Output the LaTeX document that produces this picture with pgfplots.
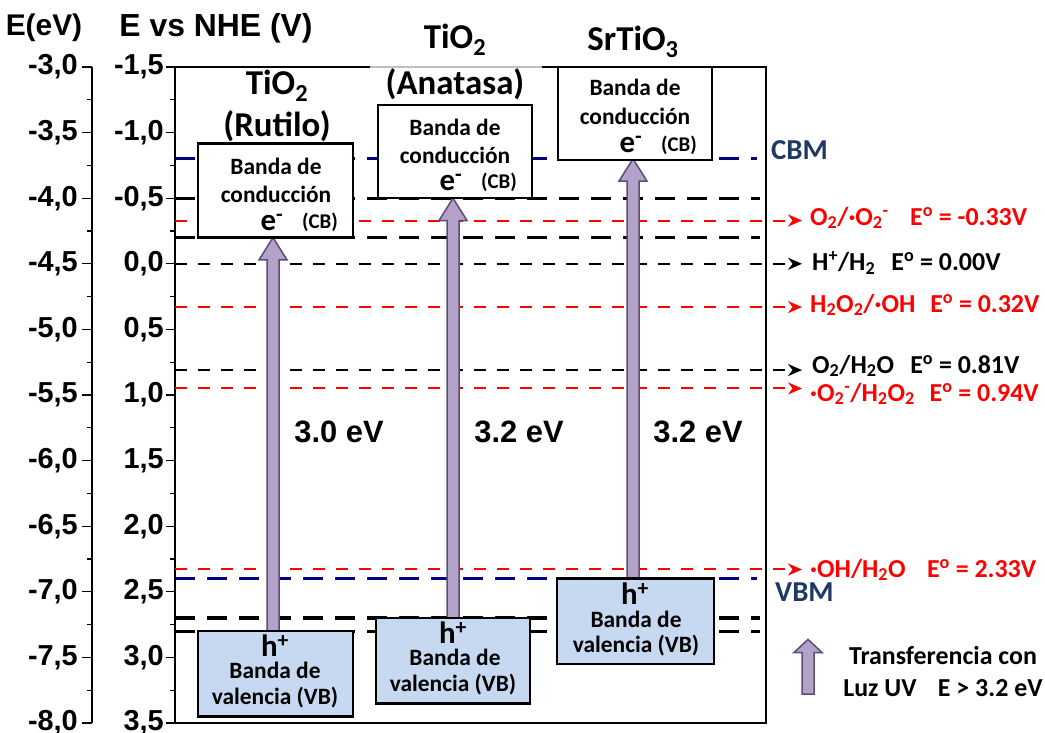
\documentclass[border=0pt]{standalone}
\usepackage{fontspec}
\setmainfont{Carlito}
\newfontfamily\arial{Liberation Sans}
\usepackage{pgfplots}
\pgfplotsset{compat=1.18}
\usetikzlibrary{arrows.meta}
\definecolor{arrfill}{HTML}{B3A2C7}
\definecolor{arrdraw}{HTML}{5F497A}
\definecolor{vbfill}{HTML}{C6D9F1}
\definecolor{navyl}{HTML}{000080}
\definecolor{navyt}{HTML}{1F3864}
\newcommand\AB[1]{\arial\bfseries\fontsize{#1}{#1}\selectfont}
\newcommand\CB[1]{\bfseries\fontsize{#1}{#1}\selectfont}
\begin{document}
\begin{tikzpicture}[x=1bp,y=1bp]
\useasboundingbox (0,0) rectangle (1045,733);
% E(eV) axis
\begin{axis}[at={(92bp,10bp)}, anchor=south west, scale only axis,
  width=10bp, height=656bp, xmin=0, xmax=1, ymin=-8, ymax=-3,
  axis y line*=left, axis x line=none,
  ytick={-8,-7.5,-7,-6.5,-6,-5.5,-5,-4.5,-4,-3.5,-3},
  yticklabels={{-8,0},{-7,5},{-7,0},{-6,5},{-6,0},{-5,5},{-5,0},{-4,5},{-4,0},{-3,5},{-3,0}},
  minor y tick num=1, tick align=outside, major tick length=10bp, minor tick length=5bp,
  axis line style={line width=1.5bp}, tick style={line width=1.2bp, black},
  yticklabel style={font=\AB{29}, inner sep=0pt, xshift=-4bp}]
\end{axis}
% main axis
\begin{axis}[at={(175bp,10bp)}, anchor=south west, scale only axis,
  width=591bp, height=656bp, xmin=175, xmax=766, ymin=-1.5, ymax=3.5,
  y dir=reverse, clip=false, xtick=\empty,
  ytick={-1.5,-1,-0.5,0,0.5,1,1.5,2,2.5,3,3.5},
  yticklabels={{-1,5},{-1,0},{-0,5},{0,0},{0,5},{1,0},{1,5},{2,0},{2,5},{3,0},{3,5}},
  minor y tick num=1, ytick pos=left, tick align=outside,
  major tick length=9bp, minor tick length=5bp,
  axis line style={line width=1.8bp}, tick style={line width=1.2bp, black},
  yticklabel style={font=\AB{29}, inner sep=0pt, xshift=-2bp}]
% thin dashed reference lines with arrows
\addplot[red, line width=2bp, dash pattern=on 12bp off 11bp, -{Stealth[length=14bp,width=12bp]}] coordinates {(175,-0.33) (802,-0.33)};
\addplot[black, line width=2bp, dash pattern=on 12bp off 11bp, -{Stealth[length=14bp,width=12bp]}] coordinates {(175,0) (802,0)};
\addplot[red, line width=2bp, dash pattern=on 12bp off 11bp, -{Stealth[length=14bp,width=12bp]}] coordinates {(175,0.33) (802,0.33)};
\addplot[black, line width=2bp, dash pattern=on 12bp off 11bp, -{Stealth[length=14bp,width=12bp]}] coordinates {(175,0.81) (802,0.81)};
\addplot[red, line width=2bp, dash pattern=on 12bp off 11bp, -{Stealth[length=14bp,width=12bp]}] coordinates {(175,0.95) (802,0.95)};
\addplot[red, line width=2bp, dash pattern=on 12bp off 11bp, -{Stealth[length=14bp,width=12bp]}] coordinates {(175,2.33) (802,2.33)};
% thick band edges
\addplot[navyl, line width=3.3bp, dash pattern=on 20bp off 12bp] coordinates {(175,-0.8) (757,-0.8)};
\addplot[navyl, line width=3.3bp, dash pattern=on 20bp off 12bp] coordinates {(175,2.4) (757,2.4)};
\addplot[black, line width=3.3bp, dash pattern=on 20bp off 12bp] coordinates {(175,-0.5) (760,-0.5)};
\addplot[black, line width=3.3bp, dash pattern=on 20bp off 12bp] coordinates {(175,-0.2) (760,-0.2)};
\addplot[black, line width=3.3bp, dash pattern=on 20bp off 12bp] coordinates {(175,2.7) (760,2.7)};
\addplot[black, line width=3.3bp, dash pattern=on 20bp off 12bp] coordinates {(175,2.8) (760,2.8)};
% top line lighter segment
\addplot[black!25, line width=1.8bp] coordinates {(370,-1.5) (542,-1.5)};
% arrows (band gaps)
\addplot[fill=arrfill, draw=arrdraw, line width=1.5bp] coordinates {(267,2.8) (279,2.8) (279,-0.03) (287,-0.03) (273,-0.2) (259,-0.03) (267,-0.03)} --cycle;
\addplot[fill=arrfill, draw=arrdraw, line width=1.5bp] coordinates {(447,2.7) (459,2.7) (459,-0.33) (467,-0.33) (453,-0.5) (439,-0.33) (447,-0.33)} --cycle;
\addplot[fill=arrfill, draw=arrdraw, line width=1.5bp] coordinates {(627,2.4) (639,2.4) (639,-0.63) (647,-0.63) (633,-0.8) (619,-0.63) (627,-0.63)} --cycle;
\addplot[fill=arrfill, draw=arrdraw, line width=1.5bp] coordinates {(802,3.28) (814,3.28) (814,2.963) (822,2.963) (808,2.863) (794,2.963) (802,2.963)} --cycle;
% conduction band boxes
\addplot[fill=white, draw=black, line width=2.5bp] coordinates {(198,-0.915) (353,-0.915) (353,-0.2) (198,-0.2)} --cycle;
\addplot[fill=white, draw=black, line width=2.5bp] coordinates {(378,-1.21) (532,-1.21) (532,-0.5) (378,-0.5)} --cycle;
\addplot[fill=white, draw=black, line width=2.5bp] coordinates {(558,-1.5) (712,-1.5) (712,-0.79) (558,-0.79)} --cycle;
% valence band boxes
\addplot[fill=vbfill, draw=black, line width=2.5bp] coordinates {(198,2.8) (353,2.8) (353,3.45) (198,3.45)} --cycle;
\addplot[fill=vbfill, draw=black, line width=2.5bp] coordinates {(376,2.7) (530,2.7) (530,3.35) (376,3.35)} --cycle;
\addplot[fill=vbfill, draw=black, line width=2.5bp] coordinates {(557,2.4) (714,2.4) (714,3.05) (557,3.05)} --cycle;
\end{axis}
% axis titles
\node[font=\AB{30}] at (44,705) {E(eV)};
\node[font=\AB{32}] at (216,705) {E vs NHE (V)};
% material titles
\node[font=\CB{35}] at (277,647) {TiO\textsubscript{2}};
\node[font=\CB{35}] at (277,607) {(Rutilo)};
\node[font=\CB{35}] at (455,693) {TiO\textsubscript{2}};
\node[font=\CB{35}] at (455,649) {(Anatasa)};
\node[font=\CB{35}] at (633,691) {SrTiO\textsubscript{3}};
% CB box texts
\node[font=\CB{23.5}] at (276,567) {Banda de};
\node[font=\CB{23.5}] at (276,539) {conducción};
\node[font=\CB{31}] at (272,511) {e\textsuperscript{-}};
\node[font=\CB{21}] at (320,511) {(CB)};
\node[font=\CB{23.5}] at (455,606) {Banda de};
\node[font=\CB{23.5}] at (455,578) {conducción};
\node[font=\CB{31}] at (451,551) {e\textsuperscript{-}};
\node[font=\CB{21}] at (499,551) {(CB)};
\node[font=\CB{23.5}] at (635,646) {Banda de};
\node[font=\CB{23.5}] at (635,617) {conducción};
\node[font=\CB{31}] at (631,589) {e\textsuperscript{-}};
\node[font=\CB{21}] at (679,588) {(CB)};
% VB box texts
\node[font=\CB{31}] at (275,87) {h\textsuperscript{+}};
\node[font=\CB{23.5}] at (275,63) {Banda de};
\node[font=\CB{23.5}] at (275,35) {valencia (VB)};
\node[font=\CB{31}] at (453,100) {h\textsuperscript{+}};
\node[font=\CB{23.5}] at (455,76) {Banda de};
\node[font=\CB{23.5}] at (453,48) {valencia (VB)};
\node[font=\CB{31}] at (635,139) {h\textsuperscript{+}};
\node[font=\CB{23.5}] at (636,114) {Banda de};
\node[font=\CB{23.5}] at (636,87) {valencia (VB)};
% gap labels
\node[font=\AB{31}] at (339,301) {3.0 eV};
\node[font=\AB{31}] at (519,301) {3.2 eV};
\node[font=\AB{31}] at (698,301) {3.2 eV};
% right labels
\node[font=\CB{29}, text=navyt, anchor=west, inner sep=0pt] at (771,583) {CBM};
\node[font=\CB{29}, text=navyt, anchor=west, inner sep=0pt] at (775,141) {VBM};
\node[font=\CB{26}, text=red, anchor=west, inner sep=0pt] at (810,515) {O\textsubscript{2}/·O\textsubscript{2}\textsuperscript{-}\hspace{0.6em} E\textsuperscript{o} = -0.33V};
\node[font=\CB{26}, text=black, anchor=west, inner sep=0pt] at (812,470) {H\textsuperscript{+}/H\textsubscript{2}\hspace{0.4em} E\textsuperscript{o} = 0.00V};
\node[font=\CB{26}, text=red, anchor=west, inner sep=0pt] at (810,428) {H\textsubscript{2}O\textsubscript{2}/·OH\hspace{0.35em} E\textsuperscript{o} = 0.32V};
\node[font=\CB{26}, text=black, anchor=west, inner sep=0pt] at (812,367) {O\textsubscript{2}/H\textsubscript{2}O\hspace{0.4em} E\textsuperscript{o} = 0.81V};
\node[font=\CB{26}, text=red, anchor=west, inner sep=0pt] at (810,339) {·O\textsubscript{2}\textsuperscript{-}/H\textsubscript{2}O\textsubscript{2}\hspace{0.35em} E\textsuperscript{o} = 0.94V};
\node[font=\CB{26}, text=red, anchor=west, inner sep=0pt] at (810,163) {·OH/H\textsubscript{2}O\hspace{0.6em} E\textsuperscript{o} = 2.33V};
% legend text
\node[font=\CB{26}] at (943,77) {Transferencia con};
\node[font=\CB{26}] at (943,45) {Luz UV\hspace{0.6em} E > 3.2 eV};
\end{tikzpicture}
\end{document}
